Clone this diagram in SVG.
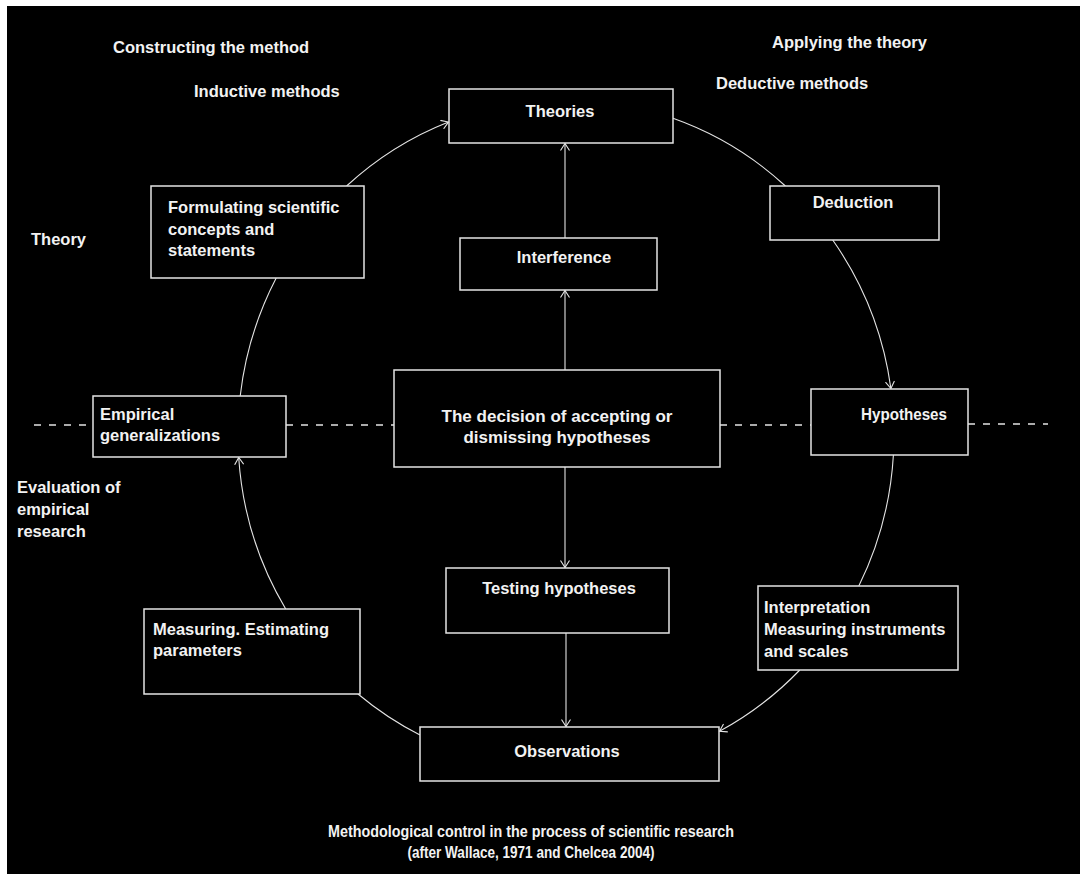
<svg xmlns="http://www.w3.org/2000/svg" width="1080" height="874" viewBox="0 0 1080 874">
<defs>
<style>
.bg{fill:#000}
.edge{fill:#fff}
.box{fill:#000;stroke:#e4e4e4;stroke-width:1.5}
.t{font-family:"Liberation Sans",Arial,sans-serif;font-weight:bold;font-size:16.5px;fill:#f2f2f2}
.c{text-anchor:middle}
.arc{fill:none;stroke:#e4e4e4;stroke-width:1.1}
.dash{fill:none;stroke:#e4e4e4;stroke-width:1.3;stroke-dasharray:7 8}
</style>
<marker id="arr" markerUnits="userSpaceOnUse" viewBox="0 0 8 10" refX="7.5" refY="5" markerWidth="8" markerHeight="10" orient="auto">
<path d="M0.5,0.5 L7.5,5 L0.5,9.5" fill="none" stroke="#e4e4e4" stroke-width="1.1"/>
</marker>
</defs>
<rect class="bg" x="0" y="0" width="1080" height="874"/>
<rect class="edge" x="0" y="0" width="1080" height="6"/>
<rect class="edge" x="0" y="0" width="7" height="874"/>

<g id="connectors">
<path class="arc" d="M346.6,186 A328,335 0 0 1 448.5,122" marker-end="url(#arr)"/>
<path class="arc" d="M673,118.3 A328,335 0 0 1 785.4,186"/>
<path class="arc" d="M832.7,240 A328,335 0 0 1 890.9,388.5" marker-end="url(#arr)"/>
<path class="arc" d="M893.4,455 A328,335 0 0 1 858.8,586"/>
<path class="arc" d="M799.8,670 A328,335 0 0 1 719.5,731.3" marker-end="url(#arr)"/>
<path class="arc" d="M420,735 A328,335 0 0 1 358,694"/>
<path class="arc" d="M285.7,609 A328,335 0 0 1 238.7,457.5" marker-end="url(#arr)"/>
<path class="arc" d="M240.2,396 A328,335 0 0 1 276.2,278"/>
<path class="arc" d="M565,238 L565,143.5" marker-end="url(#arr)"/>
<path class="arc" d="M565,370 L565,290.5" marker-end="url(#arr)"/>
<path class="arc" d="M565,467 L565,567.5" marker-end="url(#arr)"/>
<path class="arc" d="M566,633 L566,726.5" marker-end="url(#arr)"/>
<path class="dash" d="M34,425 L93,425"/>
<path class="dash" d="M286,425 L394,425"/>
<path class="dash" d="M720,425 L811,425"/>
<path class="dash" d="M968,424 L1048,424"/>
</g>

<g id="label-constructing"><text class="t" x="113" y="53">Constructing the method</text></g>
<g id="label-inductive"><text class="t" x="194" y="97">Inductive methods</text></g>
<g id="label-applying"><text class="t" x="772" y="48">Applying the theory</text></g>
<g id="label-deductive"><text class="t" x="716" y="89">Deductive methods</text></g>
<g id="label-theory"><text class="t" x="31" y="245">Theory</text></g>
<g id="label-evaluation"><text class="t" x="17" y="493">Evaluation of</text><text class="t" x="17" y="515">empirical</text><text class="t" x="17" y="537">research</text></g>

<g id="node-theories"><rect class="box" x="449" y="89" width="224" height="54"/><text class="t c" x="560" y="117">Theories</text></g>
<g id="node-formulating"><rect class="box" x="151" y="186" width="213" height="92"/><text class="t" x="168" y="213">Formulating scientific</text><text class="t" x="168" y="234.5">concepts and</text><text class="t" x="168" y="256">statements</text></g>
<g id="node-deduction"><rect class="box" x="770" y="186" width="169" height="54"/><text class="t c" x="853" y="208">Deduction</text></g>
<g id="node-interference"><rect class="box" x="460" y="238" width="197" height="52"/><text class="t c" x="564" y="263">Interference</text></g>
<g id="node-empirical"><rect class="box" x="93" y="396" width="193" height="61"/><text class="t" x="100" y="420">Empirical</text><text class="t" x="100" y="441">generalizations</text></g>
<g id="node-decision"><rect class="box" x="394" y="370" width="326" height="97"/><text class="t c" x="557" y="422" textLength="231" lengthAdjust="spacingAndGlyphs">The decision of accepting or</text><text class="t c" x="557" y="443" textLength="187" lengthAdjust="spacingAndGlyphs">dismissing hypotheses</text></g>
<g id="node-hypotheses"><rect class="box" x="811" y="389" width="157" height="66"/><text class="t c" x="904" y="420" textLength="86" lengthAdjust="spacingAndGlyphs">Hypotheses</text></g>
<g id="node-testing"><rect class="box" x="446" y="568" width="223" height="65"/><text class="t c" x="559" y="594">Testing hypotheses</text></g>
<g id="node-measuring"><rect class="box" x="144" y="609" width="216" height="85"/><text class="t" x="153" y="635">Measuring. Estimating</text><text class="t" x="153" y="656">parameters</text></g>
<g id="node-interpretation"><rect class="box" x="758" y="586" width="200" height="84"/><text class="t" x="764" y="613">Interpretation</text><text class="t" x="764" y="635">Measuring instruments</text><text class="t" x="764" y="657">and scales</text></g>
<g id="node-observations"><rect class="box" x="420" y="727" width="299" height="54"/><text class="t c" x="567" y="757">Observations</text></g>

<g id="caption"><text class="t c" x="531" y="837" textLength="406" lengthAdjust="spacingAndGlyphs">Methodological control in the process of scientific research</text><text class="t c" x="531" y="858" textLength="247" lengthAdjust="spacingAndGlyphs">(after Wallace, 1971 and Chelcea 2004)</text></g>
</svg>
